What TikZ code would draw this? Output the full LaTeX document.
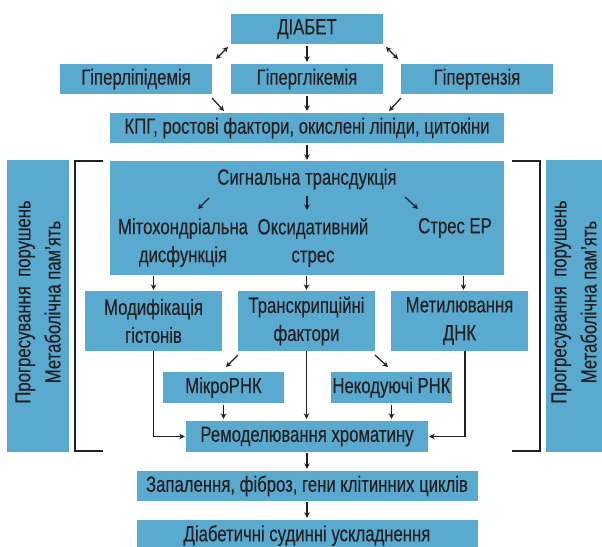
\documentclass[tikz,border=0pt]{standalone}
\usepackage{fontspec}
\setmainfont{Liberation Sans}[FakeStretch=0.76,FakeBold=0.25]
\usetikzlibrary{arrows.meta}
\definecolor{boxblue}{HTML}{5AAAD0}
\definecolor{ink}{HTML}{231F20}
\begin{document}
\begin{tikzpicture}[x=1pt,y=-1pt,
  box/.style={fill=boxblue, inner sep=0pt, text=ink, align=center,
    font=\fontsize{22}{28}\selectfont},
  lbl/.style={inner sep=0pt, text=ink, align=center, font=\fontsize{22}{28}\selectfont},
  sidetext/.style={inner sep=0pt, text=ink, align=center, font=\fontsize{22}{30}\selectfont},
  arr/.style={draw=ink, line width=1.2pt, -{Stealth[length=5.5pt,width=5.5pt]}},
  darr/.style={draw=ink, line width=1.2pt, {Stealth[length=5.5pt,width=5.5pt]}-{Stealth[length=5.5pt,width=5.5pt]}},
  brk/.style={draw=ink, line width=1.3pt}]
\useasboundingbox (0,0) rectangle (602,546);
% boxes
\node[box, minimum width=152pt, minimum height=30pt] (diab) at (307,29) {ДІАБЕТ};
\node[box, minimum width=152pt, minimum height=30pt] (hlip) at (136,79) {Гіперліпідемія};
\node[box, minimum width=152pt, minimum height=30pt] (hgly) at (307,79) {Гіперглікемія};
\node[box, minimum width=152pt, minimum height=30pt] (hten) at (477,79) {Гіпертензія};
\node[box, minimum width=394pt, minimum height=30pt] (kpg) at (307,128) {КПГ, ростові фактори, окислені ліпіди, цитокіни};
\node[box, minimum width=394pt, minimum height=114pt] (sig) at (307,218) {};
\node[lbl] (sigt) at (307,179) {Сигнальна трансдукція};
\node[lbl] (mito) at (183,242.5) {Мітохондріальна\\дисфункція};
\node[lbl] (oks) at (313,242.5) {Оксидативний\\стрес};
\node[lbl] (ser) at (455,228) {Стрес ЕР};
\node[box, minimum width=137pt, minimum height=60pt] (mod) at (153.5,321) {Модифікація\\гістонів};
\node[box, minimum width=137pt, minimum height=60pt] (tr) at (306.5,321) {Транскрипційні\\фактори};
\node[box, minimum width=137pt, minimum height=60pt] (met) at (459.5,321) {Метилювання\\ДНК};
\node[box, minimum width=121pt, minimum height=31pt] (mir) at (223.5,387.5) {МікроРНК};
\node[box, minimum width=121pt, minimum height=31pt] (nc) at (391.5,387.5) {Некодуючі РНК};
\node[box, minimum width=242pt, minimum height=31pt] (rem) at (307,436.5) {Ремоделювання хроматину};
\node[box, minimum width=341pt, minimum height=30pt] (inf) at (307,486) {Запалення, фіброз, гени клітинних циклів};
\node[box, minimum width=341pt, minimum height=31pt] (dvc) at (307,535.5) {Діабетичні судинні ускладнення};
\node[box, minimum width=62pt, minimum height=292pt] (lside) at (38,306) {};
\node[sidetext, rotate=90] (ltext) at (38,302) {Прогресування~~порушень\\Метаболічна пам’ять};
\node[box, minimum width=56pt, minimum height=292pt] (rside) at (574,306) {};
\node[sidetext, rotate=90] (rtext) at (574,302) {Прогресування~~порушень\\Метаболічна пам’ять};
% brackets
\draw[brk] (103,161) -- (75,161) -- (75,451) -- (103,451);
\draw[brk] (512,161) -- (540,161) -- (540,451) -- (512,451);
% free-end coordinates
\coordinate (d1a) at (216,59); \coordinate (d1b) at (228,47);
\coordinate (d2a) at (386,47); \coordinate (d2b) at (398,59);
\coordinate (g1a) at (212,98); \coordinate (g1b) at (224,111);
\coordinate (g2a) at (401,98); \coordinate (g2b) at (389,111);
\coordinate (s1a) at (209,198); \coordinate (s1b) at (198,209);
\coordinate (s2a) at (307,196); \coordinate (s2b) at (307,210);
\coordinate (s3a) at (405,197); \coordinate (s3b) at (418,209);
\coordinate (t1a) at (238,355); \coordinate (t1b) at (226,367);
\coordinate (t2a) at (375,355); \coordinate (t2b) at (388,367);
% arrows
\draw[darr] (d1a) -- (d1b);
\draw[darr] (d2a) -- (d2b);
\draw[arr, shorten <=2pt, shorten >=2pt] (diab.south) -- (hgly.north);
\draw[arr] (g1a) -- (g1b);
\draw[arr] (g2a) -- (g2b);
\draw[arr, shorten <=2pt, shorten >=2pt] (hgly.south) -- (kpg.north);
\draw[arr, shorten <=2pt, shorten >=1pt] (kpg.south) -- (sig.north);
\draw[arr] (s1a) -- (s1b);
\draw[arr] (s2a) -- (s2b);
\draw[arr] (s3a) -- (s3b);
\draw[arr, shorten <=1pt, shorten >=1pt] (sig.south -| mod.south) -- (mod.north);
\draw[arr, shorten <=1pt, shorten >=1pt] (sig.south -| tr.south) -- (tr.north);
\draw[arr, shorten <=1pt, shorten >=1pt] ([xshift=4pt]sig.south -| met.south) -- ([xshift=4pt]met.north);
\draw[arr] (t1a) -- (t1b);
\draw[arr] (t2a) -- (t2b);
\draw[arr, shorten <=2pt, shorten >=2pt] (mir.south) -- (mir.south |- rem.north);
\draw[arr, shorten <=2pt, shorten >=2pt] (nc.south) -- (nc.south |- rem.north);
\draw[arr, shorten >=2pt] (tr.south) -- (tr.south |- rem.north);
\draw[arr, shorten >=1pt] (mod.south) |- (rem.west);
\draw[arr, shorten >=1pt] ([xshift=5.5pt]met.south) |- (rem.east);
\draw[arr, shorten <=1pt, shorten >=2pt] (rem.south) -- (inf.north);
\draw[arr, shorten <=1pt, shorten >=2pt] (inf.south) -- (dvc.north);
\end{tikzpicture}
\end{document}
